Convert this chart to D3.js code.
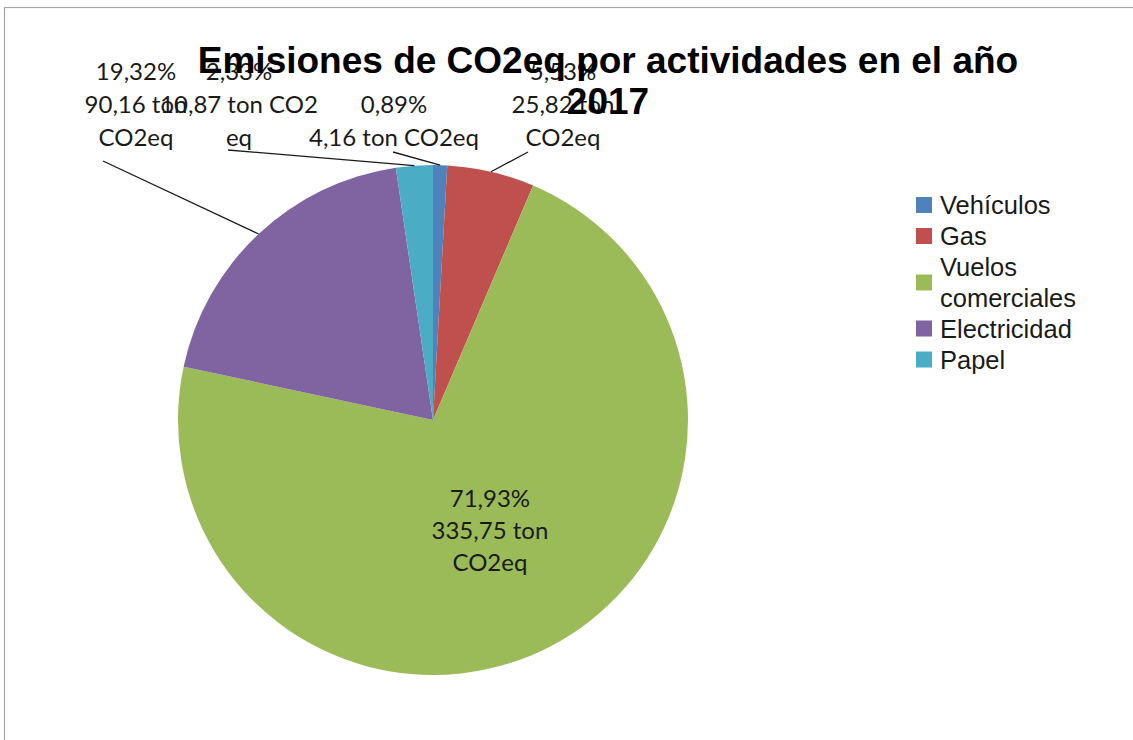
<!DOCTYPE html>
<html><head><meta charset="utf-8">
<script src="https://cdn.jsdelivr.net/npm/d3@7"></script>
<style>body{margin:0;background:#fff;overflow:hidden}</style>
</head><body><svg id="c" width="1133" height="740"></svg>
<script>
// ---- data ----
const categories = ["Vehículos", "Gas", "Vuelos comerciales", "Electricidad", "Papel"];
const values = [4.16, 25.82, 335.75, 90.16, 10.87];
const unit = "ton CO2eq";
const titleLines = ["Emisiones de CO2eq por actividades en el año", "2017"];
const legendLines = [["Vehículos"], ["Gas"], ["Vuelos", "comerciales"], ["Electricidad"], ["Papel"]];
// how each data label wraps (text lines), in category order
const labelLines = [
  ["0,89%", "4,16 ton CO2eq"],
  ["5,53%", "25,82 ton", "CO2eq"],
  ["71,93%", "335,75 ton", "CO2eq"],
  ["19,32%", "90,16 ton", "CO2eq"],
  ["2,33%", "10,87 ton CO2", "eq"]
];
const colors = ["#4F81BD", "#C0504D", "#9BBB59", "#8064A2", "#4BACC6"];

// ---- layout ----
const W = 1133, H = 740;
const cx = 433, cy = 420, R = 255;
const rowY = [70, 103, 136];          // rows for outside labels (centres)
const outLayout = {
  0: {x: 394, row: 1, lead: [393, 152]},
  1: {x: 563, row: 0, lead: [528, 152]},
  3: {x: 136, row: 0, lead: [103, 161]},
  4: {x: 239, row: 0, lead: [228, 150]}
};
const labelFont = "Lato, 'Open Sans', sans-serif";
const labelSize = 24;

const svg = d3.select("#c");
svg.append("rect").attr("x", 4.5).attr("y", 7.5).attr("width", W + 20).attr("height", H + 20)
  .attr("fill", "#fff").attr("stroke", "#a6a6a6").attr("stroke-width", 1.2);

const pie = d3.pie().value(d => d).sort(null);
const arcs = pie(values);
const arc = d3.arc().innerRadius(0).outerRadius(R);
const g = svg.append("g").attr("transform", `translate(${cx},${cy})`);
g.selectAll("path").data(arcs).join("path")
  .attr("d", arc).attr("fill", (d, i) => colors[i]);

// leader lines
const outerPt = d3.arc().innerRadius(R).outerRadius(R);
Object.entries(outLayout).forEach(([k, L]) => {
  const c = outerPt.centroid(arcs[+k]);
  svg.append("line")
    .attr("x1", L.lead[0]).attr("y1", L.lead[1])
    .attr("x2", cx + c[0]).attr("y2", cy + c[1])
    .attr("stroke", "#1a1a1a").attr("stroke-width", 1.3);
});

// outside labels
Object.entries(outLayout).forEach(([k, L]) => {
  labelLines[+k].forEach((t, j) => {
    svg.append("text").attr("x", L.x).attr("y", rowY[L.row + j])
      .attr("text-anchor", "middle").attr("dominant-baseline", "central")
      .attr("font-family", labelFont).attr("font-size", labelSize)
      .attr("fill", "#1a1a1a").text(t);
  });
});

// inside label for the large slice
const inArc = d3.arc().innerRadius(0).outerRadius(R * 0.97);
const ic = inArc.centroid(arcs[2]);
labelLines[2].forEach((t, j) => {
  svg.append("text").attr("x", cx + ic[0]).attr("y", cy + ic[1] + (j - 1) * 32)
    .attr("text-anchor", "middle").attr("dominant-baseline", "central")
    .attr("font-family", labelFont).attr("font-size", labelSize)
    .attr("fill", "#1a1a1a").text(t);
});

// title
titleLines.forEach((t, j) => {
  svg.append("text").attr("x", 608).attr("y", 73 + j * 41)
    .attr("text-anchor", "middle")
    .attr("font-family", "'Liberation Sans', Arial, sans-serif")
    .attr("font-weight", "bold").attr("font-size", 37).attr("fill", "#000").text(t);
});

// legend
let ly = 205;
const lg = svg.append("g");
legendLines.forEach((lines, i) => {
  const n = lines.length;
  const mid = ly + (n - 1) * 15.5;
  lg.append("rect").attr("x", 916).attr("y", mid - 8).attr("width", 16).attr("height", 16)
    .attr("fill", colors[i]);
  lines.forEach((t, j) => {
    lg.append("text").attr("x", 940).attr("y", ly + j * 30.5)
      .attr("dominant-baseline", "central")
      .attr("font-family", "'Liberation Sans', Arial, sans-serif")
      .attr("font-size", 25.5).attr("fill", "#1a1a1a").text(t);
  });
  ly += n * 30.5 + 0.5;
});
</script></body></html>
